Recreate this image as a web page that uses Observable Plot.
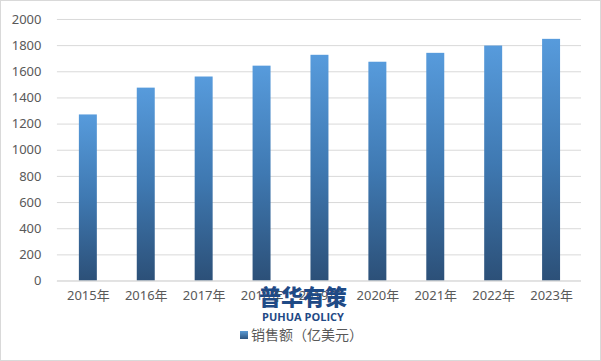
<!DOCTYPE html>
<html><head><meta charset="utf-8">
<script src="https://cdn.jsdelivr.net/npm/d3@7"></script>
<script src="https://cdn.jsdelivr.net/npm/@observablehq/plot@0.6"></script>
<style>
body{margin:0;background:#fff;}
#wrap{position:relative;width:601px;height:361px;box-sizing:border-box;border:1px solid #d9d9d9;background:#fff;overflow:hidden;font-family:"Noto Sans CJK SC","Noto Sans",sans-serif;}
#chart{position:absolute;left:-1px;top:-1px;}
#legend{position:absolute;left:0;width:601px;top:323px;text-align:center;font-size:14px;color:#595959;}
#legend .sw{display:inline-block;width:8px;height:8px;background:linear-gradient(#5b9bd5,#2e5580);margin-right:3px;vertical-align:1px;}
#wm{position:absolute;left:258px;top:283px;color:#1f4a86;text-align:center;line-height:1;}
#wm .cn{font-size:22px;font-weight:900;letter-spacing:0px;}
#wm .en{font-size:11px;font-weight:bold;font-family:"Open Sans",sans-serif;margin-top:5px;}
</style></head>
<body>
<div id="wrap"><div id="chart"></div>
<div id="wm"><div class="cn">普华有策</div><div class="en">PUHUA POLICY</div></div>
<div id="legend"><span class="sw"></span>销售额（亿美元）</div>
</div>
<script>
const years = ["2015年","2016年","2017年","2018年","2019年","2020年","2021年","2022年","2023年"];
const sales = [1270, 1475, 1560, 1643, 1726, 1673, 1741, 1797, 1848];
const yTicks = [0,200,400,600,800,1000,1200,1400,1600,1800,2000];
const seriesName = "销售额（亿美元）";

const data = years.map((y,i)=>({year:y, value:sales[i]}));

const plot = Plot.plot({
  width: 601, height: 316,
  marginTop: 19, marginBottom: 35, marginLeft: 57, marginRight: 19,
  style: {fontFamily: '"Noto Sans","Noto Sans CJK SC",sans-serif', fontSize: "13px", color: "#595959", background: "transparent"},
  x: {domain: years, paddingInner: 0.69, paddingOuter: 0.345, label: null, tickSize: 0, tickPadding: 10},
  y: {domain: [0, 2000], ticks: yTicks, tickFormat: d => String(d), label: null, tickSize: 0, tickPadding: 16},
  marks: [
    Plot.gridY(yTicks, {stroke: "#d9d9d9", strokeOpacity: 1}),
    Plot.barY(data, {x: "year", y: "value", fill: "url(#barGrad)"}),
    Plot.ruleY([0], {stroke: "#d9d9d9"})
  ]
});
const svgns = "http://www.w3.org/2000/svg";
const defs = document.createElementNS(svgns, "defs");
defs.innerHTML = '<linearGradient id="barGrad" x1="0" y1="0" x2="0" y2="1"><stop offset="0" stop-color="#579bdc"/><stop offset="0.5" stop-color="#3f79b2"/><stop offset="1" stop-color="#2c5078"/></linearGradient>';
plot.insertBefore(defs, plot.firstChild);
document.getElementById("chart").appendChild(plot);
</script>
</body></html>
